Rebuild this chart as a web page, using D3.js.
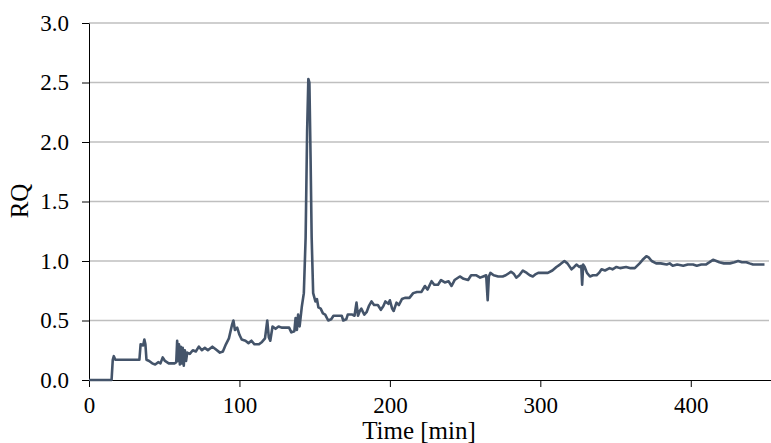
<!DOCTYPE html>
<html>
<head>
<meta charset="utf-8">
<script src="https://cdn.jsdelivr.net/npm/d3@7"></script>
<style>
  body { margin: 0; background: #fff; }
</style>
</head>
<body>
<div id="chart"></div>
<script>
// set global variables
const width = 771;
const height = 443;
const plotLeft = 89;
const plotTop = 23;
const plotBottom = 380;
const plotRight = 769;
const serif = "'Liberation Serif', 'Times New Roman', Times, serif";

// tick labels
const xTicks = [0, 100, 200, 300, 400];
const yTicks = [0, 0.5, 1.0, 1.5, 2.0, 2.5, 3.0];

// data: time [min] and RQ
const timeMin = [0, 15, 15.8, 16.5, 17.5, 33.5, 34.3, 36, 36.8, 37.5, 38.2, 40, 42, 44, 46, 47.5, 49, 50.5, 53, 57,
    58, 58.6, 59.2, 59.8, 60.4, 61, 61.6, 62.3, 63, 63.7, 64.5, 65.3, 67, 69, 71, 73, 75, 77, 79, 82,
    84, 87, 89, 91, 93, 95, 96, 97, 98.5, 100, 101.5, 104, 106, 108, 110, 113, 115, 117, 118.5, 119.5,
    120.5, 122, 124, 126, 128, 131, 133, 134.5, 136.5, 137.3, 138.2, 139, 140, 141.5, 142.8, 144, 145, 145.8, 146.5, 147.3,
    148, 149, 150.5, 151.5, 152.5, 154, 155.5, 157, 159, 161, 162.5, 165, 168, 169, 171, 172, 175, 176.5, 177.8, 178.8,
    180, 181, 183, 184.5, 186, 187.8, 189.5, 192, 194, 195.6, 197, 199, 200, 201.5, 202.5, 204.4, 206, 208, 210, 213,
    215.5, 218, 221, 223.3, 225, 227.7, 229.5, 232, 234, 236.5, 239, 241, 243, 246.5, 249, 252, 254, 257.5, 260, 262,
    264, 265, 265.8, 266.8, 269, 272, 275, 277, 280.6, 282.5, 284, 286, 288.4, 291, 293, 295, 297, 298.6, 302, 305,
    308, 310.7, 313, 316, 318, 320.7, 322.5, 324, 326, 327.2, 327.8, 328.5, 329.5, 331, 333, 335, 337.4, 339, 340.7, 343,
    346, 348, 350.6, 353, 357, 360, 362.8, 366, 368, 370.5, 372, 374, 377, 380, 384, 386, 388, 391, 395, 398,
    401.5, 404, 407, 410, 412.5, 414.8, 417, 419, 422, 426, 429, 431.5, 434, 437, 439, 441.4, 445, 449];
const rqValues = [0, 0, 0.17, 0.2, 0.17, 0.17, 0.3, 0.29, 0.34, 0.3, 0.17, 0.16, 0.14, 0.13, 0.15, 0.14, 0.19, 0.16, 0.14, 0.14,
    0.15, 0.33, 0.16, 0.3, 0.13, 0.28, 0.14, 0.27, 0.12, 0.25, 0.16, 0.23, 0.22, 0.25, 0.24, 0.28, 0.25, 0.27, 0.25, 0.28,
    0.26, 0.23, 0.24, 0.3, 0.35, 0.46, 0.5, 0.42, 0.44, 0.38, 0.34, 0.33, 0.31, 0.33, 0.3, 0.3, 0.32, 0.35, 0.5, 0.36,
    0.33, 0.45, 0.43, 0.45, 0.44, 0.44, 0.44, 0.4, 0.41, 0.52, 0.42, 0.55, 0.45, 0.62, 0.73, 1.2, 2.1, 2.53, 2.5, 1.85,
    1.2, 0.73, 0.66, 0.68, 0.61, 0.6, 0.56, 0.55, 0.5, 0.51, 0.54, 0.54, 0.54, 0.5, 0.51, 0.55, 0.55, 0.54, 0.65, 0.54,
    0.58, 0.6, 0.55, 0.57, 0.62, 0.66, 0.63, 0.63, 0.59, 0.62, 0.66, 0.64, 0.67, 0.6, 0.58, 0.65, 0.63, 0.68, 0.69, 0.69,
    0.73, 0.74, 0.74, 0.79, 0.76, 0.83, 0.8, 0.8, 0.84, 0.82, 0.83, 0.79, 0.84, 0.87, 0.85, 0.84, 0.88, 0.88, 0.86, 0.87,
    0.88, 0.67, 0.87, 0.9, 0.88, 0.87, 0.87, 0.88, 0.91, 0.89, 0.86, 0.88, 0.92, 0.9, 0.88, 0.87, 0.89, 0.9, 0.9, 0.9,
    0.92, 0.95, 0.97, 1.0, 0.98, 0.93, 0.95, 0.97, 0.95, 0.96, 0.8, 0.97, 0.95, 0.9, 0.87, 0.88, 0.88, 0.9, 0.93, 0.92,
    0.94, 0.93, 0.95, 0.94, 0.95, 0.94, 0.94, 0.98, 1.01, 1.04, 1.03, 1.0, 0.98, 0.98, 0.97, 0.98, 0.96, 0.97, 0.96, 0.97,
    0.97, 0.96, 0.97, 0.97, 0.99, 1.01, 1.0, 0.99, 0.98, 0.98, 0.99, 1.0, 0.99, 0.99, 0.98, 0.97, 0.97, 0.97];

const data = timeMin.map((t, i) => ({ t: t, rq: rqValues[i] }));

const svg = d3.select("#chart")
    .append("svg")
    .attr("width", width)
    .attr("height", height);

// scales
const xScale = d3.scaleLinear().domain([0, 452]).range([plotLeft, plotRight]);
const yScale = d3.scaleLinear().domain([0, 3]).range([plotBottom, plotTop]);

// horizontal gridlines
svg.append("g")
    .selectAll("line")
    .data(yTicks.filter(d => d > 0))
    .enter()
    .append("line")
    .attr("x1", plotLeft)
    .attr("x2", plotRight)
    .attr("y1", d => yScale(d))
    .attr("y2", d => yScale(d))
    .attr("stroke", "#bfbfbf")
    .attr("stroke-width", 1.5);

// x axis
const xAxis = d3.axisBottom(xScale)
    .tickValues(xTicks)
    .tickFormat(d3.format("d"))
    .tickSize(7)
    .tickPadding(10)
    .tickSizeOuter(0);

const gx = svg.append("g")
    .attr("transform", "translate(0," + plotBottom + ")")
    .call(xAxis);
gx.select(".domain").attr("stroke", "#000").attr("d", "M" + plotLeft + ",0.5H" + width);
gx.selectAll(".tick line").attr("stroke", "#000");
gx.selectAll("text")
    .attr("fill", "#000")
    .style("font-family", serif)
    .style("font-size", "23px");

// y axis
const yAxis = d3.axisLeft(yScale)
    .tickValues(yTicks)
    .tickFormat(d3.format(".1f"))
    .tickSize(7)
    .tickPadding(13)
    .tickSizeOuter(0);

const gy = svg.append("g")
    .attr("transform", "translate(" + plotLeft + ",0)")
    .call(yAxis);
gy.select(".domain").attr("stroke", "#000");
gy.selectAll(".tick line").attr("stroke", "#000");
gy.selectAll("text")
    .attr("fill", "#000")
    .style("font-family", serif)
    .style("font-size", "23px");

// axis titles
svg.append("text")
    .attr("x", 419)
    .attr("y", 439)
    .attr("text-anchor", "middle")
    .style("font-family", serif)
    .style("font-size", "25px")
    .text("Time [min]");

svg.append("text")
    .attr("transform", "translate(28,201)rotate(-90)")
    .attr("text-anchor", "middle")
    .style("font-family", serif)
    .style("font-size", "25px")
    .text("RQ");

// RQ line
const line = d3.line()
    .x(d => xScale(d.t))
    .y(d => yScale(d.rq));

svg.append("path")
    .datum(data)
    .attr("fill", "none")
    .attr("stroke", "#44546a")
    .attr("stroke-width", 2.6)
    .attr("stroke-linejoin", "round")
    .attr("d", line);
</script>
</body>
</html>
